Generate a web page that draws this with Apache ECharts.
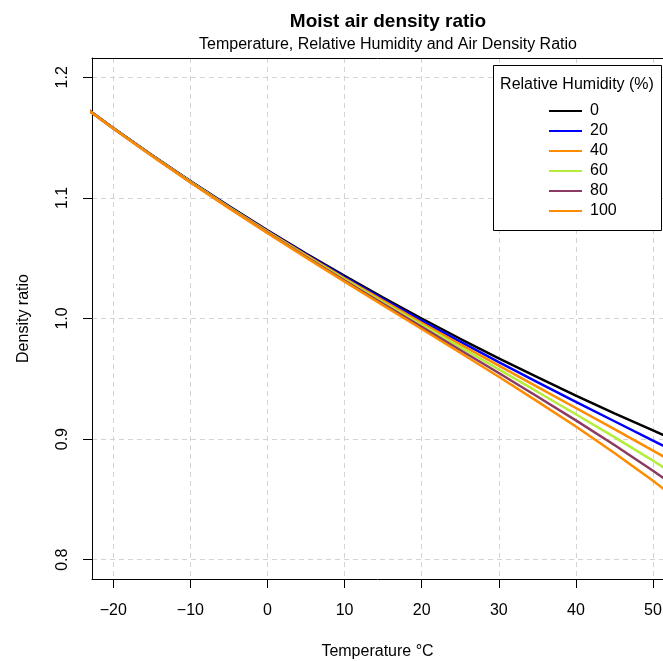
<!DOCTYPE html>
<html>
<head>
<meta charset="utf-8">
<script src="https://cdn.jsdelivr.net/npm/echarts@6/dist/echarts.min.js"></script>
<style>html,body{margin:0;padding:0;background:#fff;}#c{width:663px;height:661px;}</style>
</head>
<body>
<div id="c"></div>
<script>
var temps = [-25,-20,-15,-10,-5,0,5,10,15,20,25,30,35,40,45,50,55];
var rh0   = [1.1813,1.1580,1.1356,1.1140,1.0932,1.0732,1.0539,1.0353,1.0174,1.0000,0.9832,0.9670,0.9513,0.9361,0.9214,0.9072,0.8933];
var rh20  = [1.1812,1.1579,1.1354,1.1138,1.0929,1.0727,1.0532,1.0344,1.0161,0.9983,0.9809,0.9639,0.9473,0.9309,0.9148,0.8988,0.8828];
var rh40  = [1.1812,1.1578,1.1353,1.1135,1.0925,1.0722,1.0525,1.0334,1.0148,0.9965,0.9786,0.9609,0.9433,0.9258,0.9082,0.8905,0.8723];
var rh60  = [1.1811,1.1577,1.1351,1.1133,1.0922,1.0717,1.0518,1.0325,1.0135,0.9948,0.9762,0.9578,0.9393,0.9206,0.9016,0.8821,0.8618];
var rh80  = [1.1810,1.1576,1.1350,1.1130,1.0918,1.0712,1.0512,1.0315,1.0122,0.9930,0.9739,0.9548,0.9353,0.9155,0.8951,0.8738,0.8514];
var rh100 = [1.1810,1.1575,1.1348,1.1128,1.0915,1.0708,1.0505,1.0306,1.0109,0.9913,0.9716,0.9517,0.9313,0.9104,0.8885,0.8654,0.8409];
var seriesNames = ['0','20','40','60','80','100'];
var seriesValues = [rh0, rh20, rh40, rh60, rh80, rh100];
var seriesColors = ['#000000','#0000FF','#FF8C00','#B3EE3A','#8B3A62','#FF8C00'];
var xTicks = [-20,-10,0,10,20,30,40,50];
var yTicks = [0.8,0.9,1.0,1.1,1.2];

var FONT = '"Liberation Sans", Arial, Helvetica, sans-serif';
var chart = echarts.init(document.getElementById('c'), null, {renderer:'canvas'});

function pairs(vals){ return temps.map(function(t,i){ return [t, vals[i]]; }); }

var series = seriesNames.map(function(n,i){
  return {
    name: n, type: 'line', data: pairs(seriesValues[i]), xAxisIndex: 0, yAxisIndex: 0,
    showSymbol: false, symbol: 'none', smooth: false, clip: true,
    lineStyle: {color: seriesColors[i], width: 2.5},
    itemStyle: {color: seriesColors[i]},
    emphasis: {disabled: true}, animation: false, z: 3
  };
});

var option = {
  animation: false,
  backgroundColor: '#ffffff',
  title: [
    {text: 'Moist air density ratio', left: 383, top: 7, textAlign: 'center',
     textStyle: {fontFamily: FONT, fontSize: 19, fontWeight: 'bold', color: '#000', lineHeight: 20}},
    {text: 'Temperature, Relative Humidity and Air Density Ratio', left: 383, top: 31, textAlign: 'center',
     textStyle: {fontFamily: FONT, fontSize: 16, fontWeight: 'normal', color: '#000', lineHeight: 18}}
  ],
  grid: {left: 92, top: 58, right: 0, bottom: 82, show: false, containLabel: false, outerBoundsMode: 'none'},
  xAxis: [{
    type: 'value', min: -22.76, max: 51.30, position: 'bottom',
    name: 'Temperature \u00B0C', nameLocation: 'middle', nameGap: 65,
    nameTextStyle: {fontFamily: FONT, fontSize: 16, color: '#000'},
    axisLine: {show: true, onZero: false, lineStyle: {color: '#000', width: 1}},
    axisTick: {show: true, length: 9, customValues: xTicks, lineStyle: {color: '#000', width: 1}},
    axisLabel: {show: true, customValues: xTicks, margin: 24, fontFamily: FONT, fontSize: 16, color: '#000',
      formatter: function(v){ return String(v).replace('-', '\u2212'); }},
    splitLine: {show: true, lineStyle: {color: '#D3D3D3', width: 1, type: [5,4]}}
  }, {
    type: 'value', min: -22.76, max: 51.30, position: 'top',
    axisLine: {show: true, onZero: false, lineStyle: {color: '#000', width: 1}},
    axisTick: {show: false}, axisLabel: {show: false}, splitLine: {show: false}
  }],
  yAxis: {
    type: 'value', min: 0.784, max: 1.216,
    name: 'Density ratio', nameLocation: 'middle', nameGap: 60, nameRotate: 90,
    nameTextStyle: {fontFamily: FONT, fontSize: 16, color: '#000'},
    axisLine: {show: true, onZero: false, lineStyle: {color: '#000', width: 1}},
    axisTick: {show: true, length: 9, customValues: yTicks, lineStyle: {color: '#000', width: 1}},
    axisLabel: {show: true, customValues: yTicks, margin: 21, rotate: 90, fontFamily: FONT, fontSize: 16, color: '#000',
      formatter: function(v){ return Number(v).toFixed(1); }},
    splitLine: {show: true, lineStyle: {color: '#D3D3D3', width: 1, type: [5,4]}}
  },
  legend: {
    show: true, orient: 'vertical', left: 544, top: 96, itemGap: 0,
    itemWidth: 33, itemHeight: 2, icon: 'rect', data: seriesNames,
    selectedMode: false, z: 20,
    textStyle: {fontFamily: FONT, fontSize: 16, color: '#000', lineHeight: 20, padding: [0,0,0,3]}
  },
  graphic: [
    {type: 'rect', z: 10, shape: {x: 493.5, y: 65.5, width: 168, height: 165},
     style: {fill: '#fff', stroke: '#000', lineWidth: 1}},
    {type: 'text', z: 11, x: 577, y: 85,
     style: {text: 'Relative Humidity (%)', font: '16px ' + FONT, fill: '#000', textAlign: 'center', textVerticalAlign: 'middle'}}
  ],
  series: series
};
chart.setOption(option);
</script>
</body>
</html>
